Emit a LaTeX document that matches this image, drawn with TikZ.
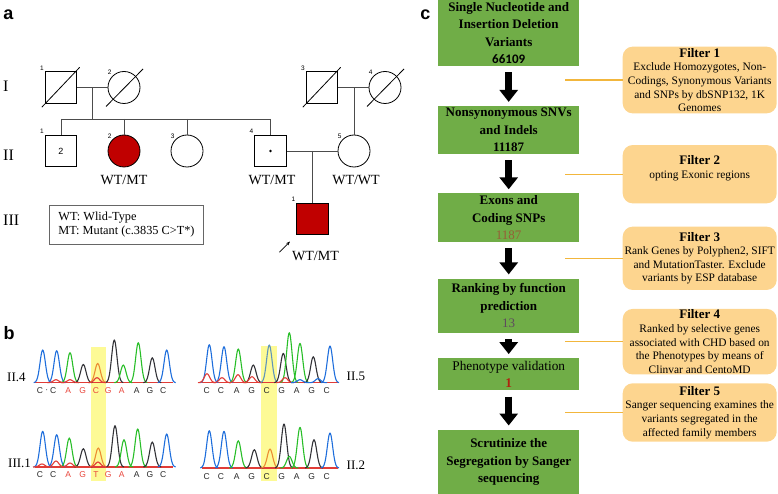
\documentclass[tikz,border=0pt]{standalone}
\usepackage{fontspec}
\setmainfont{Liberation Serif}
\setsansfont{Liberation Sans}
\newfontfamily\calibri{Carlito}
\usetikzlibrary{arrows.meta, positioning, calc}

\definecolor{mtred}{RGB}{192,0,0}
\definecolor{stagegreen}{RGB}{112,173,71}
\definecolor{filterfill}{RGB}{253,213,143}
\definecolor{filterline}{RGB}{242,182,60}
\definecolor{seqblue}{RGB}{30,110,220}
\definecolor{seqteal}{RGB}{95,150,185}
\definecolor{seqgreen}{RGB}{40,190,40}
\definecolor{seqblack}{RGB}{50,50,55}
\definecolor{seqred}{RGB}{225,60,55}
\definecolor{seqorange}{RGB}{235,140,50}
\definecolor{hilite}{RGB}{253,250,150}
\definecolor{ntred}{RGB}{232,70,60}
\definecolor{ntdark}{RGB}{40,40,40}
\definecolor{cnum1187}{RGB}{150,95,55}
\definecolor{cnum13}{RGB}{95,75,95}
\definecolor{cnum1}{RGB}{175,35,15}

\newcommand{\ftitle}[1]{{\bfseries\fontsize{13}{13.6}\selectfont #1}}

\begin{document}
\begin{tikzpicture}[x=1pt, y=-1pt,
  male/.style={rectangle, draw, line width=0.8pt, minimum size=31.5pt, inner sep=0pt, label distance=0.5pt},
  female/.style={circle, draw, line width=0.8pt, minimum size=32pt, inner sep=0pt, label distance=7.5pt},
  affected/.style={fill=mtred},
  num/.style={font=\sffamily\fontsize{6.5}{7}\selectfont, inner sep=0.8pt},
  geno/.style={font=\fontsize{14}{15}\selectfont, inner sep=1pt},
  gen/.style={font=\fontsize{16}{17}\selectfont, anchor=west, inner sep=0pt},
  kin/.style={draw=black!70, line width=0.8pt},
  panel/.style={font=\sffamily\bfseries\fontsize{18}{18}\selectfont, inner sep=0pt},
  trace/.style={line width=1.1pt, line join=round},
  ntext/.style={font=\sffamily\fontsize{8.5}{9}\selectfont, inner sep=0pt},
  seqlab/.style={font=\fontsize{13}{14}\selectfont, inner sep=0pt, anchor=west},
  stage/.style={rectangle, fill=stagegreen, minimum width=141pt, align=center, inner sep=1pt,
                font=\bfseries\fontsize{13}{17.5}\selectfont},
  filterbox/.style={rectangle, rounded corners=10pt, fill=filterfill, minimum width=154pt,
                    align=center, inner sep=1pt, font=\fontsize{11.4}{13.6}\selectfont},
  flow/.style={line width=7pt, -{Triangle[length=12pt, width=18pt]}, shorten <=6pt, shorten >=4pt},
  link/.style={draw=filterline, line width=1.3pt}
]
\useasboundingbox (0,0) rectangle (778,494);

% panel labels
\node[panel] (la) at (8.3,15) {a};
\node[panel] (lb) at (9,333) {b};
\node[panel] (lc) at (425.3,15) {c};

% (a) pedigree
\node[gen] (gI)   at (3,86.5) {I};
\node[gen] (gII)  at (3,155) {II};
\node[gen] (gIII) at (3,220.5) {III};

\node[male,   label={[num]135:1}] (i1) at (61,87.5) {};
\node[female, label={[num]135:2}] (i2) at (124,87.5) {};
\node[male,   label={[num]135:3}] (i3) at (322,87.5) {};
\node[female, label={[num]135:4}] (i4) at (385,87.5) {};
\node[male, label={[num]135:1}, font=\sffamily\fontsize{9}{9}\selectfont] (ii1) at (61,151) {2};
\node[female, affected, label={[num]135:2}] (ii2) at (124,151) {};
\node[female, label={[num]135:3}] (ii3) at (187,151) {};
\node[male,   label={[num]135:4}] (ii4) at (270.5,151) {};
\node[female, label={[num]135:5}] (ii5) at (354,151) {};
\node[male, affected, label={[num]135:1}] (iii1) at (312.5,219) {};
\fill (ii4.center) circle (1.3);

% deceased
\draw[line width=0.8pt] ([shift={(-3,3.5)}]i1.south west) -- ([shift={(2.5,-4)}]i1.north east);
\draw[line width=0.8pt] ([shift={(-3,3.5)}]i3.south west) -- ([shift={(2.5,-4)}]i3.north east);
\draw[line width=0.8pt] ([shift={(-18,19)}]i2.center) -- ([shift={(19,-18.5)}]i2.center);
\draw[line width=0.8pt] ([shift={(-18,19)}]i4.center) -- ([shift={(19,-18.5)}]i4.center);

% mating and descent lines
\coordinate (sib) at (0,119);
\coordinate (m1) at ($(i1.east)!0.5!(i2.west)$);
\coordinate (m2) at (i3.east -| ii5.north);
\coordinate (m3) at (ii4.east -| iii1.north);
\draw[kin] (i1) -- (i2);
\draw[kin] (i3) -- (i4);
\draw[kin] (ii4) -- (ii5);
\draw[kin] (m1) -- (m1 |- sib);
\draw[kin] (ii1.north |- sib) -- (ii4.north |- sib);
\foreach \kid in {ii1, ii2, ii3, ii4}
  \draw[kin] (\kid.north |- sib) -- (\kid.north);
\draw[kin] (m2) -- (ii5.north);
\draw[kin] (m3) -- (iii1.north);

% genotypes
\node[geno, below=7pt of ii2] (gt22) {WT/MT};
\node[geno, below=7pt of ii4, xshift=1.5pt] (gt24) {WT/MT};
\node[geno, below=7pt of ii5, xshift=2pt] (gt25) {WT/WT};
\node[geno, below=15pt of iii1, xshift=3pt] (gt31) {WT/MT};
\coordinate (proband) at ([shift={(-17,17)}]iii1.south west);
\draw[-{Stealth[length=4pt, width=3pt]}, line width=0.7pt, shorten >=9pt] (proband) -- (iii1.south west);

\node[draw=black!60, line width=0.8pt, minimum height=39pt, inner xsep=9pt, anchor=west,
      align=left, font=\fontsize{12.3}{14}\selectfont]
  (key) at (49,224.5) {WT: Wlid-Type\\MT: Mutant (c.3835 C>T*)};

% (b) chromatograms
\fill[hilite] (91,347) rectangle (106,481);
\fill[hilite] (261,346) rectangle (277,481);
\draw[trace, seqred] (35,382.7) -- (173,382.7);
\draw[trace, seqred] (202,382.7) -- (338,382.7);
\draw[trace, seqred] (35,467) -- (173,467);
\draw[trace, seqred] (202,468) -- (338,468);
\foreach \px/\ph/\pc in {42.7/32.7/seqblue, 56.7/32/seqblue, 70/30/seqgreen, 83.3/18.3/seqblack,
    97.7/19.3/seqorange, 114.3/42.7/seqblack, 123.3/17.7/seqgreen, 138.3/40/seqgreen,
    152.3/25/seqblack, 166.7/32.7/seqblue, 56/3/seqred, 70/3/seqred, 97/5/seqred}
  \draw[trace, \pc] plot[smooth, domain=\px-9:\px+9, samples=19] (\x, {382.7-\ph*exp(-((\x-\px)/3.8)^2)});
\foreach \px/\ph/\pc in {209.3/38/seqblue, 224/36/seqblue, 238.3/33.7/seqgreen, 253.3/17.7/seqblack,
    269.3/37.7/seqteal, 283.3/29.3/seqblack, 289.3/50/seqgreen, 300/39.3/seqgreen,
    313.3/26/seqblack, 330/36.7/seqblue, 207/9/seqred, 222/5/seqred, 238/8/seqred,
    252/6/seqred, 285/5/seqred, 300/3/seqblue, 318/4/seqblue}
  \draw[trace, \pc] plot[smooth, domain=\px-9:\px+9, samples=19] (\x, {382.7-\ph*exp(-((\x-\px)/3.8)^2)});
\foreach \px/\ph/\pc in {42.7/35.7/seqblue, 56.7/32.3/seqblue, 69.3/29/seqgreen, 83.3/18.3/seqblack,
    98.3/19/seqorange, 115/41.3/seqblack, 124/27.3/seqgreen, 137.7/38/seqgreen,
    152.3/25/seqblack, 166.7/33/seqblue, 42/3/seqred, 56/6/seqred, 70/4/seqred, 98/5/seqred}
  \draw[trace, \pc] plot[smooth, domain=\px-9:\px+9, samples=19] (\x, {467-\ph*exp(-((\x-\px)/3.8)^2)});
\foreach \px/\ph/\pc in {209.3/37.3/seqblue, 224/36.7/seqblue, 238.3/27.3/seqgreen, 254.3/18.3/seqblack,
    270/19/seqorange, 284/44/seqblack, 289.3/11.7/seqgreen, 300/40.7/seqgreen,
    314/28.3/seqblack, 330/35/seqblue}
  \draw[trace, \pc] plot[smooth, domain=\px-9:\px+9, samples=19] (\x, {468-\ph*exp(-((\x-\px)/3.8)^2)});

% base calls
\foreach \nx/\nb/\nc [count=\i] in {40/C/ntdark, 46.7/·/ntdark, 53.3/C/ntdark, 68.3/A/ntred,
    82.7/G/ntred, 96/C/ntred, 108.3/G/ntred, 121.7/A/ntred, 136.7/A/ntdark, 150/G/ntdark, 163.3/C/ntdark}
  \node[ntext, text=\nc] (ta\i) at (\nx,391) {\nb};
\foreach \nx/\nb/\nc [count=\i] in {40/C/ntdark, 53.3/C/ntdark, 68.3/A/ntred, 82.7/G/ntred,
    96/T/ntred, 108.3/G/ntred, 121.7/A/ntred, 136.7/A/ntdark, 150/G/ntdark, 163.3/C/ntdark}
  \node[ntext, text=\nc] (tc\i) at (\nx,475) {\nb};
\foreach \nx/\nb [count=\i] in {206.7/C, 221/C, 236.7/A, 251.7/G, 266.7/C, 281.7/G, 296.7/A, 311.7/G, 326.7/C} {
  \node[ntext, text=ntdark] (tb\i) at (\nx,391) {\nb};
  \node[ntext, text=ntdark] (td\i) at (\nx,476.5) {\nb};
}
\node[seqlab] (l24) at (7,377) {II.4};
\node[seqlab] (l31) at (8,463) {III.1};
\node[seqlab] (l25) at (346.5,376.7) {II.5};
\node[seqlab] (l22) at (346.5,465) {II.2};

% (c) filtering pipeline
\node[stage, minimum height=66pt] (s1) at (508.7,33)
  {Single Nucleotide and\\Insertion Deletion\\Variants\\{\calibri 66109}};
\node[stage, minimum height=48pt, below=39.7pt of s1] (s2)
  {Nonsynonymous SNVs\\and Indels\\11187};
\node[stage, minimum height=48.7pt, below=39pt of s2] (s3)
  {Exons and\\Coding SNPs\\\textcolor{cnum1187}{\mdseries 1187}};
\node[stage, minimum height=54pt, below=36pt of s3] (s4)
  {Ranking by function\\prediction\\\textcolor{cnum13}{\mdseries 13}};
\node[stage, minimum height=32pt, below=25.3pt of s4, font=\fontsize{13.3}{17.5}\selectfont] (s5)
  {Phenotype validation\\\textcolor{cnum1}{\bfseries 1}};
\node[stage, minimum height=64.7pt, below=39pt of s5] (s6)
  {Scrutinize the\\Segregation by Sanger\\sequencing};
\foreach \a/\b in {s1/s2, s2/s3, s3/s4, s4/s5, s5/s6}
  \draw[flow] (\a) -- (\b);

\node[filterbox, minimum height=66.7pt] (f1) at (699.7,80)
  {\ftitle{Filter 1}\\Exclude Homozygotes, Non-\\Codings, Synonymous Variants\\and SNPs by dbSNP132, 1K\\Genomes};
\node[filterbox, minimum height=58.3pt, text depth=14.5pt] (f2) at (699.7,174.2)
  {\ftitle{Filter 2}\\opting Exonic regions};
\node[filterbox, minimum height=63.3pt] (f3) at (699.7,258.3)
  {\ftitle{Filter 3}\\Rank Genes by Polyphen2, SIFT\\and MutationTaster. Exclude\\variants by ESP database};
\node[filterbox, minimum height=63.3pt] (f4) at (699.7,341.7)
  {\ftitle{Filter 4}\\Ranked by selective genes\\associated with CHD based on\\the Phenotypes by means of\\Clinvar and CentoMD};
\node[filterbox, minimum height=58.4pt] (f5) at (699.7,412.5)
  {\ftitle{Filter 5}\\Sanger sequencing examines the\\variants segregated in the\\affected family members};
\coordinate (tap) at (565,0);
\foreach \f in {f1, f2, f3, f4, f5}
  \draw[link] (tap |- \f.west) -- (\f.west);
\end{tikzpicture}
\end{document}
